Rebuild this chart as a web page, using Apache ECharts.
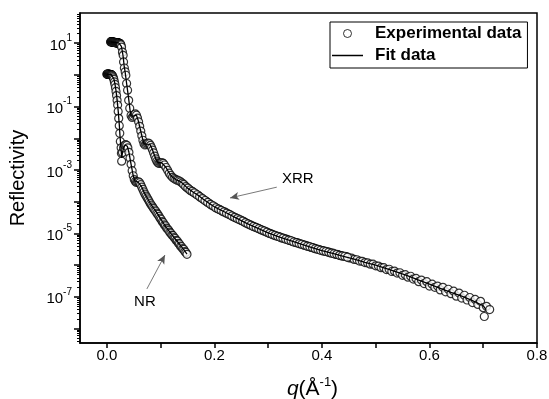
<!DOCTYPE html>
<html><head><meta charset="utf-8">
<script src="https://cdn.jsdelivr.net/npm/echarts@6/dist/echarts.min.js"></script>
<style>html,body{margin:0;padding:0;background:#fff}#c{width:549px;height:399px}</style>
</head><body><div id="c"></div>
<script>
// [q (1/Å), log10(Reflectivity)]
const xrrExp = [
[0.0070,1.04],[0.0075,1.05],[0.0080,1.05],[0.0085,1.04],[0.0090,1.04],[0.0095,1.05],[0.0100,1.04],[0.0105,1.04],[0.0110,1.04],[0.0115,1.03],
[0.0120,1.03],[0.0125,1.04],[0.0130,1.03],[0.0135,1.03],[0.0140,1.03],[0.0145,1.02],[0.0150,1.03],[0.0155,1.02],[0.0160,1.02],[0.0165,1.02],
[0.0170,1.02],[0.0175,1.01],[0.0180,1.02],[0.0185,1.01],[0.0190,1.02],[0.0195,1.01],[0.0200,1.01],[0.0205,1.01],[0.0210,1.01],[0.0215,1.00],
[0.0220,1.01],[0.0225,1.00],[0.0230,1.00],[0.0235,0.99],[0.0240,1.00],[0.0245,0.98],[0.0250,0.98],[0.0255,0.96],[0.0260,0.95],
[0.0273,0.88],[0.029,0.72],[0.0303,0.62],[0.031,0.41],[0.0325,0.22],[0.034,0.10],[0.0353,-0.01],[0.0367,-0.27],[0.0385,-0.48],[0.0405,-0.80],
[0.0425,-1.05],[0.045,-1.28],[0.047,-1.34],[0.049,-1.30],[0.051,-1.25],[0.053,-1.23],[0.055,-1.27],[0.057,-1.36],[0.059,-1.48],[0.061,-1.62],
[0.063,-1.77],[0.065,-1.92],[0.067,-2.06],[0.069,-2.17],[0.071,-2.21],[0.073,-2.19],[0.075,-2.16],[0.077,-2.15],[0.079,-2.17],[0.081,-2.22],
[0.083,-2.29],[0.085,-2.37],[0.087,-2.46],[0.089,-2.56],[0.091,-2.65],[0.093,-2.72],[0.095,-2.77],[0.097,-2.79],[0.099,-2.78],[0.101,-2.77],
[0.103,-2.77],[0.105,-2.79],[0.107,-2.84],[0.110,-2.92],[0.113,-3.01],[0.116,-3.10],[0.119,-3.17],[0.122,-3.23],[0.125,-3.27],[0.128,-3.30],
[0.131,-3.32],[0.134,-3.34],[0.137,-3.37],[0.140,-3.41],[0.144,-3.47],[0.148,-3.54],[0.152,-3.60],[0.156,-3.65],[0.160,-3.69],[0.165,-3.75],
[0.170,-3.80],[0.175,-3.87],[0.180,-3.93],[0.185,-3.99],[0.190,-4.05],[0.195,-4.11],[0.200,-4.16],[0.205,-4.21],[0.210,-4.25],[0.215,-4.30],
[0.220,-4.33],[0.225,-4.38],[0.230,-4.42],[0.235,-4.47],[0.240,-4.51],[0.245,-4.55],[0.250,-4.59],[0.255,-4.63],[0.260,-4.68],[0.265,-4.72],
[0.270,-4.76],[0.275,-4.80],[0.280,-4.83],[0.285,-4.87],[0.290,-4.91],[0.295,-4.94],[0.300,-4.98],[0.305,-5.01],[0.310,-5.05],[0.315,-5.08],
[0.320,-5.10],[0.325,-5.14],[0.330,-5.16],[0.335,-5.19],[0.340,-5.22],[0.345,-5.25],[0.350,-5.28],[0.355,-5.30],[0.360,-5.33],[0.365,-5.36],
[0.370,-5.38],[0.375,-5.41],[0.380,-5.44],[0.385,-5.46],[0.390,-5.49],[0.395,-5.51],[0.400,-5.54],[0.405,-5.56],[0.410,-5.58],[0.415,-5.61],
[0.420,-5.62],[0.425,-5.66],[0.430,-5.67],[0.435,-5.70],[0.440,-5.72],[0.445,-5.73],[0.450,-5.77],[0.455,-5.78],[0.460,-5.82],[0.465,-5.83],
[0.470,-5.87],[0.475,-5.88],[0.480,-5.92],[0.485,-5.93],[0.490,-5.97],[0.495,-5.97],[0.500,-6.02],[0.505,-6.03],[0.510,-6.08],[0.515,-6.08],
[0.520,-6.14],[0.525,-6.13],[0.530,-6.20],[0.535,-6.19],[0.540,-6.25],[0.545,-6.24],[0.550,-6.32],[0.555,-6.30],[0.560,-6.38],[0.565,-6.35],
[0.570,-6.44],[0.575,-6.42],[0.580,-6.52],[0.585,-6.47],[0.590,-6.58],[0.595,-6.52],[0.600,-6.66],[0.605,-6.60],[0.610,-6.70],[0.615,-6.66],
[0.620,-6.78],[0.625,-6.70],[0.630,-6.84],[0.635,-6.76],[0.640,-6.90],[0.645,-6.82],[0.650,-6.98],[0.655,-6.88],[0.660,-7.04],[0.665,-6.95],
[0.670,-7.10],[0.675,-7.02],[0.680,-7.18],[0.685,-7.08],[0.690,-7.24],[0.695,-7.14],[0.700,-7.34],[0.702,-7.62],[0.706,-7.30],[0.712,-7.40]
];
// extra XRR points in the dense mid-q band
const xrrExpDense = [
[0.1425,-3.45],[0.1465,-3.52],[0.1505,-3.57],[0.1545,-3.63],[0.1585,-3.67],[0.1625,-3.72],[0.1675,-3.78],[0.1725,-3.84],[0.1775,-3.90],[0.1825,-3.96],
[0.1875,-4.02],[0.1925,-4.08],[0.1975,-4.13],[0.2025,-4.19],[0.2075,-4.23],[0.2125,-4.27],[0.2175,-4.32],[0.2225,-4.36],[0.2275,-4.40],[0.2325,-4.45],
[0.2375,-4.49],[0.2425,-4.53],[0.2475,-4.57],[0.2525,-4.61],[0.2575,-4.66],[0.2625,-4.70],[0.2675,-4.74],[0.2725,-4.78],[0.2775,-4.81],[0.2825,-4.85],
[0.2875,-4.89],[0.2925,-4.92],[0.2975,-4.96],[0.3025,-5.00],[0.3075,-5.03],[0.3125,-5.06],[0.3175,-5.09],[0.3225,-5.12],[0.3275,-5.15],[0.3325,-5.18],
[0.3375,-5.21],[0.3425,-5.23],[0.3475,-5.27],[0.3525,-5.29],[0.3575,-5.32],[0.3625,-5.34],[0.3675,-5.37],[0.3725,-5.40],[0.3775,-5.42],[0.3825,-5.45],
[0.3875,-5.48],[0.3925,-5.50],[0.3975,-5.53],[0.4025,-5.55],[0.4075,-5.57],[0.4125,-5.59],[0.4175,-5.62],[0.4225,-5.64],[0.4275,-5.66],[0.4325,-5.69],
[0.4375,-5.71],[0.4425,-5.72],[0.4475,-5.75]
];
const nrExp = [
[0.0000,0.02],[0.0005,0.03],[0.0010,0.03],[0.0015,0.02],[0.0020,0.02],[0.0025,0.03],[0.0030,0.03],[0.0035,0.02],[0.0040,0.02],[0.0045,0.02],
[0.0050,0.02],[0.0055,0.01],[0.0060,0.02],[0.0065,0.01],[0.0070,0.01],[0.0075,0.01],[0.0080,0.01],[0.0085,0.00],[0.0090,0.00],[0.0095,-0.01],
[0.010,-0.02],[0.011,-0.05],[0.012,-0.09],[0.013,-0.14],[0.014,-0.22],[0.015,-0.30],[0.016,-0.40],[0.017,-0.52],[0.018,-0.65],[0.019,-0.80],
[0.020,-0.95],[0.021,-1.15],[0.022,-1.37],[0.023,-1.60],[0.024,-1.84],[0.025,-2.10],[0.0265,-2.30],[0.027,-2.47],[0.0275,-2.72],[0.029,-2.45],
[0.031,-2.30],[0.033,-2.22],[0.035,-2.20],[0.037,-2.22],[0.039,-2.30],[0.041,-2.44],[0.043,-2.62],[0.045,-2.82],[0.047,-3.02],[0.049,-3.18],
[0.051,-3.30],[0.053,-3.36],[0.055,-3.39],[0.057,-3.38],[0.059,-3.37],[0.061,-3.40],[0.063,-3.46],[0.065,-3.54],[0.067,-3.61],[0.069,-3.69],
[0.071,-3.76],[0.073,-3.82],[0.075,-3.88],[0.077,-3.94],[0.079,-4.00],[0.081,-4.06],[0.083,-4.11],[0.085,-4.16],[0.087,-4.21],[0.089,-4.26],
[0.091,-4.30],[0.093,-4.36],[0.095,-4.40],[0.097,-4.46],[0.099,-4.52],[0.101,-4.56],[0.103,-4.63],[0.105,-4.66],[0.107,-4.73],[0.109,-4.76],
[0.111,-4.83],[0.113,-4.86],[0.115,-4.90],[0.117,-4.96],[0.119,-4.99],[0.121,-5.05],[0.123,-5.07],[0.125,-5.13],[0.127,-5.16],[0.129,-5.22],
[0.131,-5.24],[0.133,-5.31],[0.135,-5.33],[0.137,-5.40],[0.139,-5.42],[0.141,-5.48],[0.143,-5.50],[0.145,-5.57],[0.147,-5.60],[0.149,-5.66]
];
const xrrFit = [
[0.007,1.04],[0.015,1.03],[0.022,1.01],[0.025,0.98],[0.027,0.90],[0.029,0.72],[0.0305,0.55],[0.032,0.30],[0.034,0.08],[0.0367,-0.27],
[0.039,-0.56],[0.041,-0.82],[0.043,-1.10],[0.045,-1.29],[0.047,-1.34],[0.049,-1.30],[0.052,-1.24],[0.055,-1.27],[0.058,-1.42],[0.062,-1.70],
[0.066,-1.99],[0.069,-2.17],[0.071,-2.21],[0.074,-2.18],[0.077,-2.15],[0.080,-2.19],[0.084,-2.33],[0.088,-2.51],[0.092,-2.69],[0.095,-2.77],
[0.098,-2.79],[0.102,-2.77],[0.105,-2.79],[0.110,-2.92],[0.116,-3.10],[0.122,-3.23],[0.128,-3.30],[0.134,-3.34],[0.140,-3.41],[0.150,-3.57],
[0.160,-3.69],[0.170,-3.80],[0.180,-3.93],[0.190,-4.05],[0.200,-4.16],[0.220,-4.33],[0.240,-4.51],[0.260,-4.68],[0.280,-4.83],[0.300,-4.98],
[0.320,-5.11],[0.340,-5.22],[0.360,-5.33],[0.380,-5.44],[0.400,-5.54],[0.420,-5.63],[0.440,-5.72],[0.460,-5.81],[0.480,-5.91],[0.500,-6.00],
[0.520,-6.11],[0.540,-6.22],[0.560,-6.34],[0.580,-6.47],[0.600,-6.60],[0.620,-6.73],[0.640,-6.86],[0.660,-6.98],[0.680,-7.12],[0.700,-7.28],[0.705,-7.40]
];
const nrFit = [
[0.000,0.02],[0.008,0.01],[0.011,-0.03],[0.013,-0.12],[0.015,-0.28],[0.017,-0.50],[0.019,-0.78],[0.021,-1.13],[0.023,-1.55],[0.0245,-1.95],
[0.0265,-2.35],[0.0275,-2.62],[0.029,-2.46],[0.031,-2.30],[0.034,-2.21],[0.036,-2.20],[0.038,-2.25],[0.041,-2.44],[0.045,-2.82],[0.049,-3.18],
[0.052,-3.34],[0.055,-3.39],[0.058,-3.38],[0.061,-3.40],[0.065,-3.54],[0.070,-3.73],[0.075,-3.88],[0.080,-4.03],[0.085,-4.16],[0.090,-4.28],
[0.095,-4.40],[0.100,-4.54],[0.105,-4.67],[0.110,-4.80],[0.115,-4.91],[0.120,-5.02],[0.125,-5.13],[0.130,-5.23],[0.135,-5.34],[0.140,-5.45],
[0.145,-5.56],[0.149,-5.65]
];
const xLabelValues = [0, 0.2, 0.4, 0.6, 0.8];
const xTickValues = [0, 0.1, 0.2, 0.3, 0.4, 0.5, 0.6, 0.7, 0.8];
const yLabelExponents = [1, -1, -3, -5, -7];
const yMajorExponents = [1, 0, -1, -2, -3, -4, -5, -6, -7, -8];
const yMinorMantissas = [2, 3, 4, 5, 6, 7, 8, 9];
const yMin = 3.5e-9, yMax = 90;
// annotations: [text, textQ, textLog, fromQ, fromLog, toQ, toLog]
const annotations = [
  ['XRR', 0.355, -3.28, 0.316, -3.54, 0.229, -3.88],
  ['NR', 0.0707, -7.16, 0.0744, -6.75, 0.108, -5.68]
];

const FONT = '"Liberation Sans", Arial, sans-serif';
const toPts = arr => arr.map(p => [p[0], Math.pow(10, p[1])]);
// minor tick positions as decade exponents, for a tick-only companion axis
const yMinorLog = [];
[-9].concat(yMajorExponents).forEach(e => yMinorMantissas.forEach(m => { const v = e + Math.log10(m); if (v > Math.log10(yMin) && v < Math.log10(yMax)) yMinorLog.push(v); }));

const GRID = {left: 80, right: 12, top: 13, bottom: 56};
const chart = echarts.init(document.getElementById('c'), null, {renderer: 'canvas'});
const expStyle = {color: '#fff', borderColor: '#000', borderWidth: 1.2};
chart.setOption({
  animation: false,
  backgroundColor: '#fff',
  grid: Object.assign({show: true, borderColor: '#000', borderWidth: 1.5, containLabel: false, outerBoundsMode: 'none'}, GRID),
  legend: {
    left: 330, top: 22, orient: 'vertical', itemWidth: 31, itemHeight: 8, itemGap: 5,
    borderColor: '#000', borderWidth: 1, padding: [3, 6, 4, 2],
    textStyle: {fontSize: 17, fontWeight: 'bold', color: '#000', fontFamily: FONT, padding: [0, 0, 0, 7]},
    data: [
      {name: 'Experimental data', icon: 'circle', itemStyle: {color: '#fff', borderColor: '#000', borderWidth: 1}},
      {name: 'Fit data', icon: 'path://M0,0H62V3H0Z', itemStyle: {color: '#000'}}
    ]
  },
  xAxis: {
    type: 'value', min: -0.05, max: 0.8,
    name: '{i|q}{n|(Å}{s|-1}{n|)}', nameLocation: 'middle', nameGap: 33,
    nameTextStyle: {padding: [0, 0, 0, 8], rich: {
      i: {fontSize: 21, fontStyle: 'italic', fontFamily: FONT, color: '#000', lineHeight: 24, verticalAlign: 'bottom'},
      n: {fontSize: 21, fontFamily: FONT, color: '#000', lineHeight: 24, verticalAlign: 'bottom'},
      s: {fontSize: 13, fontFamily: FONT, color: '#000', lineHeight: 13, verticalAlign: 'top'}
    }},
    axisLine: {show: true, onZero: false, lineStyle: {color: '#000', width: 1.5}},
    axisTick: {show: true, length: 5, lineStyle: {color: '#000', width: 1.5}, customValues: xTickValues},
    axisLabel: {customValues: xLabelValues, formatter: v => v.toFixed(1), margin: 5, fontSize: 15, color: '#000', fontFamily: FONT},
    splitLine: {show: false}
  },
  yAxis: [{
    type: 'log', logBase: 10, min: yMin, max: yMax, position: 'left',
    name: 'Reflectivity', nameLocation: 'middle', nameGap: 52,
    nameTextStyle: {fontSize: 20, color: '#000', fontFamily: FONT},
    axisLine: {show: true, onZero: false, lineStyle: {color: '#000', width: 1.5}},
    axisTick: {show: true, length: 6, lineStyle: {color: '#000', width: 1.5}, customValues: yMajorExponents.map(e => Math.pow(10, e))},
    axisLabel: {
      customValues: yLabelExponents.map(e => Math.pow(10, e)), margin: 8,
      formatter: v => '{b|10}{s|' + Math.round(Math.log10(v)) + '}',
      rich: {
        b: {fontSize: 15, fontFamily: FONT, color: '#000', lineHeight: 20, verticalAlign: 'bottom'},
        s: {fontSize: 10, fontFamily: FONT, color: '#000', lineHeight: 12, verticalAlign: 'top'}
      }
    },
    splitLine: {show: false}
  }, {
    type: 'value', min: Math.log10(yMin), max: Math.log10(yMax), position: 'right', offset: -(549 - GRID.left - GRID.right),
    axisLine: {show: false, onZero: false},
    axisTick: {show: true, inside: true, length: 3, lineStyle: {color: '#000', width: 1}, customValues: yMinorLog},
    axisLabel: {show: false},
    splitLine: {show: false}
  }],
  series: [
    {name: 'Experimental data', type: 'scatter', data: toPts(xrrExp.concat(xrrExpDense)), symbol: 'circle', symbolSize: 8, itemStyle: expStyle, silent: true},
    {name: 'Experimental data', type: 'scatter', data: toPts(nrExp), symbol: 'circle', symbolSize: 8, itemStyle: expStyle, silent: true},
    {name: 'Fit data', type: 'line', data: toPts(xrrFit), symbol: 'none', lineStyle: {color: '#000', width: 1.3}, itemStyle: {color: '#000'}, silent: true,
      markLine: {silent: true, symbol: ['none', 'arrow'], symbolSize: [6, 9], label: {show: false},
        lineStyle: {color: '#555', width: 0.8, type: 'solid'},
        data: annotations.map(a => [{coord: [a[3], Math.pow(10, a[4])]}, {coord: [a[5], Math.pow(10, a[6])]}])},
      markPoint: {silent: true, symbol: 'circle', symbolSize: 1, itemStyle: {color: 'rgba(0,0,0,0)'},
        label: {show: true, position: 'inside', fontSize: 15, color: '#000', fontFamily: FONT},
        data: annotations.map(a => ({coord: [a[1], Math.pow(10, a[2])], value: a[0], label: {formatter: a[0]}}))}
    },
    {name: 'Fit data', type: 'line', data: toPts(nrFit), symbol: 'none', lineStyle: {color: '#000', width: 1.3}, itemStyle: {color: '#000'}, silent: true}
  ]
});
</script>
</body></html>
